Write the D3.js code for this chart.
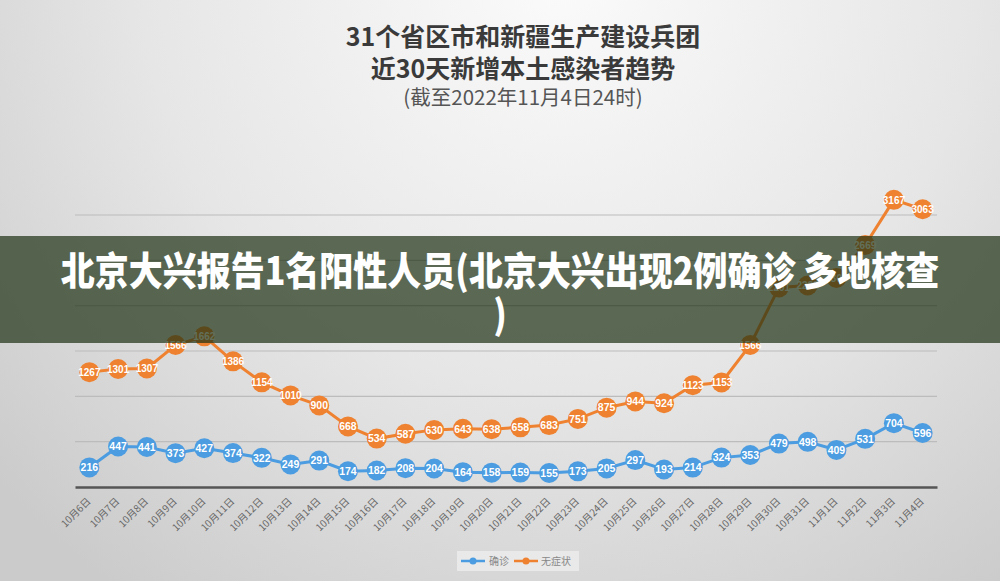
<!DOCTYPE html>
<html><head><meta charset="utf-8">
<script src="https://cdn.jsdelivr.net/npm/d3@7/dist/d3.min.js"></script>
<style>html,body{margin:0;padding:0;overflow:hidden;}svg{display:block;}</style>
</head><body>
<script>
const dates = ["10月6日","10月7日","10月8日","10月9日","10月10日","10月11日","10月12日","10月13日","10月14日","10月15日","10月16日","10月17日","10月18日","10月19日","10月20日","10月21日","10月22日","10月23日","10月24日","10月25日","10月26日","10月27日","10月28日","10月29日","10月30日","10月31日","11月1日","11月2日","11月3日","11月4日"];
const confirmed = [216,447,441,373,427,374,322,249,291,174,182,208,204,164,158,159,155,173,205,297,193,214,324,353,479,498,409,531,704,596];
const asymptomatic = [1267,1301,1307,1566,1662,1386,1154,1010,900,668,534,587,630,643,638,658,683,751,875,944,924,1123,1153,1566,2201,2222,2306,2669,3167,3063];
const gridValues = [500,1000,1500,2000,2500,3000];
const seriesNames = ["确诊","无症状"];
const titleLines = ["31个省区市和新疆生产建设兵团","近30天新增本土感染者趋势","(截至2022年11月4日24时)"];
const bannerLines = ["北京大兴报告1名阳性人员(北京大兴出现2例确诊 多地核查",")"];

const W = 1000, H = 581;
const colors = ["#4b9ce0", "#ef8230"];
const svg = d3.select("body").append("svg").attr("width", W).attr("height", H);
const defs = svg.append("defs");
const g1 = defs.append("radialGradient").attr("id","bg").attr("gradientUnits","userSpaceOnUse")
  .attr("cx",560).attr("cy",-30).attr("r",760);
g1.append("stop").attr("offset","0").attr("stop-color","#fbfbfb");
g1.append("stop").attr("offset","0.55").attr("stop-color","#e6e6e6");
g1.append("stop").attr("offset","1").attr("stop-color","#cbcbcb");
svg.append("rect").attr("width",W).attr("height",H).attr("fill","url(#bg)");

const font = "'Noto Sans CJK SC','Noto Sans',sans-serif";
// titles
const tsz = [25,25,20.5], ty = [46,78,105], tw = [700,700,400], tc = ["#3a3a3a","#3a3a3a","#555"];
titleLines.forEach((t,i)=>{
  svg.append("text").attr("x",523).attr("y",ty[i]).attr("text-anchor","middle")
    .attr("font-family",font).attr("font-size",tsz[i]).attr("font-weight",tw[i])
    .attr("fill",tc[i]).text(t);
});

const x = d3.scaleBand().domain(dates).range([75,937]);
const cx = d => x(d) + x.bandwidth()/2;
const y = d3.scaleLinear().domain([0,3000]).range([487,215]);

// gridlines
svg.append("g").selectAll("line").data(gridValues).join("line")
  .attr("x1",75).attr("x2",937).attr("y1",d=>y(d)).attr("y2",d=>y(d))
  .attr("stroke","#bcbcbc").attr("stroke-width",1.2);

// x axis
const xAxis = svg.append("g").attr("transform","translate(0,487)")
  .call(d3.axisBottom(x).tickSize(0).tickPadding(0));
xAxis.select(".domain").attr("stroke","#555").attr("stroke-width",2.5);
xAxis.selectAll("text").attr("font-family",font).attr("font-size",10).attr("fill","#666")
  .attr("text-anchor","end").attr("dy",0)
  .attr("transform","translate(2,15) rotate(-45)");

// series
const allSeries = [confirmed, asymptomatic];
const line = d3.line().x((d,i)=>cx(dates[i])).y(d=>y(d));
allSeries.forEach((vals,si)=>{
  const g = svg.append("g");
  g.append("path").datum(vals).attr("d",line).attr("fill","none")
    .attr("stroke",colors[si]).attr("stroke-width",3);
  g.selectAll("circle").data(vals).join("circle")
    .attr("cx",(d,i)=>cx(dates[i])).attr("cy",d=>y(d)).attr("r",10)
    .attr("fill",colors[si]);
  g.selectAll("text").data(vals).join("text")
    .attr("x",(d,i)=>cx(dates[i])).attr("y",d=>y(d)+3.8)
    .attr("text-anchor","middle").attr("font-family","'Liberation Sans',Arial,sans-serif")
    .attr("font-weight",700).attr("font-size",d=>d>=1000?10:10.5).attr("fill","#fff").text(d=>d);
});

// legend
const lg = svg.append("g");
lg.append("rect").attr("x",457).attr("y",551).attr("width",122).attr("height",20).attr("fill","#e9e9e9");
const lx = [461, 514], tx = [489, 541];
seriesNames.forEach((n,i)=>{
  lg.append("line").attr("x1",lx[i]).attr("x2",lx[i]+24).attr("y1",561).attr("y2",561)
    .attr("stroke",colors[i]).attr("stroke-width",2.5);
  lg.append("circle").attr("cx",lx[i]+12).attr("cy",561).attr("r",3.5).attr("fill",colors[i]);
  lg.append("text").attr("x",tx[i]).attr("y",565).attr("font-family",font)
    .attr("font-size",10).attr("fill","#888").text(n);
});

// banner overlay
svg.append("rect").attr("x",0).attr("y",236).attr("width",W).attr("height",107)
  .attr("fill","rgb(30,50,20)").attr("fill-opacity",0.7);
const by = [285, 329];
bannerLines.forEach((t,i)=>{
  svg.append("text").attr("transform",`translate(500,${by[i]}) scale(1,1.15)`)
    .attr("text-anchor","middle").attr("font-family",font).attr("font-weight",900)
    .attr("font-size",34).attr("fill","#fff").text(t);
});
</script>
</body></html>
